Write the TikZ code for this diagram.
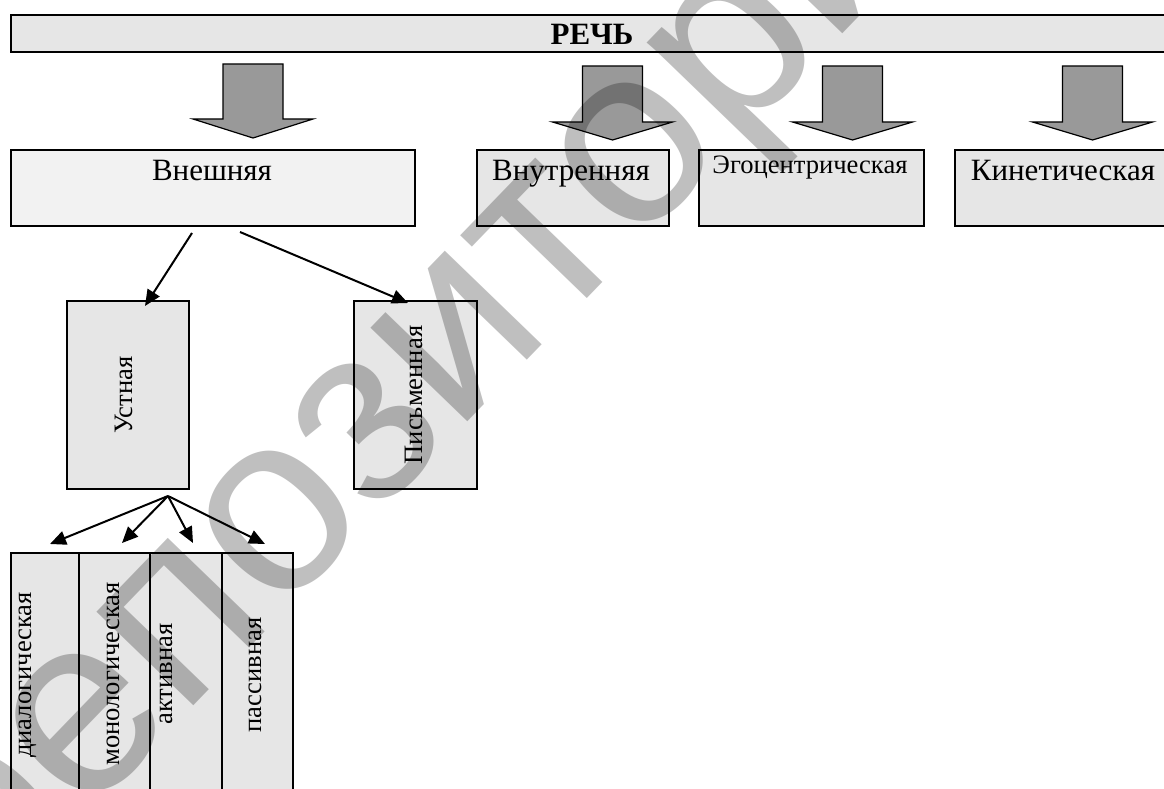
\documentclass[tikz,border=0pt]{standalone}
\usepackage{fontspec}
\setmainfont{Liberation Serif}
\newfontfamily\wmfont{Liberation Sans}
\usetikzlibrary{arrows.meta,calc}
\definecolor{boxgray}{HTML}{E6E6E6}
\definecolor{boxlight}{HTML}{F2F2F2}
\definecolor{arrowgray}{HTML}{999999}
\begin{document}
\begin{tikzpicture}[x=1pt,y=-1pt,
  box/.style={draw=black, line width=2pt, fill=boxgray, inner sep=0pt, outer sep=0pt},
  mainlbl/.style={font=\fontsize{31}{36}\selectfont, inner sep=0pt, anchor=base},
  smalllbl/.style={font=\fontsize{26.6}{31}\selectfont, inner sep=0pt},
  vlbl/.style={smalllbl, rotate=90, anchor=mid},
  bigarrow/.style={draw=black, line width=1.2pt, fill=arrowgray, line join=miter},
  conn/.style={line width=2pt, -{Triangle[length=16pt,width=14pt]}},
  wmark/.style={font=\fontsize{255}{255}\selectfont\wmfont, text=black, text opacity=0.25, rotate=46, anchor=mid, inner sep=0pt}
]
\useasboundingbox (0,0) rectangle (1164,789);
\clip (0,0) rectangle (1164,789);

% top bar
\node[box, minimum width=1164pt, minimum height=37pt] (bar) at (593,33.5) {};
\node[mainlbl, font=\fontsize{31}{36}\selectfont\bfseries] (barlbl) at (592,45) {РЕЧЬ};

% big arrows
\foreach \c/\t/\b/\p in {253/64/119/138, 612.5/66/122/140, 852.5/66/122/140, 1092.5/66/122/140}{
  \path[bigarrow] (\c-30,\t) -- (\c+30,\t) -- (\c+30,\b) -- (\c+60,\b) -- (\c,\p) -- (\c-60,\b) -- (\c-30,\b) -- cycle;
}

% second row
\node[box, fill=boxlight, minimum width=404pt, minimum height=76pt] (vn) at (213,188) {};
\node[mainlbl] (vnlbl) at (212,180) {Внешняя};
\node[box, minimum width=192pt, minimum height=76pt] (vt) at (573,188) {};
\node[mainlbl] (vtlbl) at (571,180) {Внутренняя};
\node[box, minimum width=225pt, minimum height=76pt] (eg) at (811.5,188) {};
\node[smalllbl, anchor=base] (eglbl) at (810,173) {Эгоцентрическая};
\node[box, minimum width=225pt, minimum height=76pt] (kn) at (1067.5,188) {};
\node[mainlbl] (knlbl) at (1063,180) {Кинетическая};

% third row
\node[box, minimum width=122pt, minimum height=188pt] (ust) at (128,395) {};
\node[vlbl] (ustlbl) at (130,395) {Устная};
\node[box, minimum width=123pt, minimum height=188pt] (pis) at (415.5,395) {};
\node[vlbl] (pislbl) at (420,395) {Письменная};

% bottom row
\node[box, minimum width=68pt, minimum height=257pt] (d1) at (45,681.5) {};
\node[box, minimum width=71pt, minimum height=257pt] (d2) at (114.5,681.5) {};
\node[box, minimum width=72pt, minimum height=257pt] (d3) at (186,681.5) {};
\node[box, minimum width=71pt, minimum height=257pt] (d4) at (257.5,681.5) {};
\node[vlbl] (d1lbl) at (29,675) {диалогическая};
\node[vlbl] (d2lbl) at (117,674) {монологическая};
\node[vlbl] (d3lbl) at (170,674) {активная};
\node[vlbl] (d4lbl) at (259.5,675) {пассивная};

% connectors
\coordinate (s1) at (192,233);
\coordinate (t1) at (145,306);
\coordinate (s2) at (240,232);
\coordinate (t2) at (408,303);
\draw[conn] (s1) -- (t1);
\draw[conn] (s2) -- (t2);
\coordinate (f) at (168,496);
\coordinate (e1) at (50,544);
\coordinate (e2) at (122,543);
\coordinate (e3) at (193,543);
\coordinate (e4) at (265,544);
\foreach \e in {e1,e2,e3,e4}{ \draw[conn] (f) -- (\e); }

% watermark
\node[wmark] (wm) at (505,380) {репозиторий};
\end{tikzpicture}
\end{document}
